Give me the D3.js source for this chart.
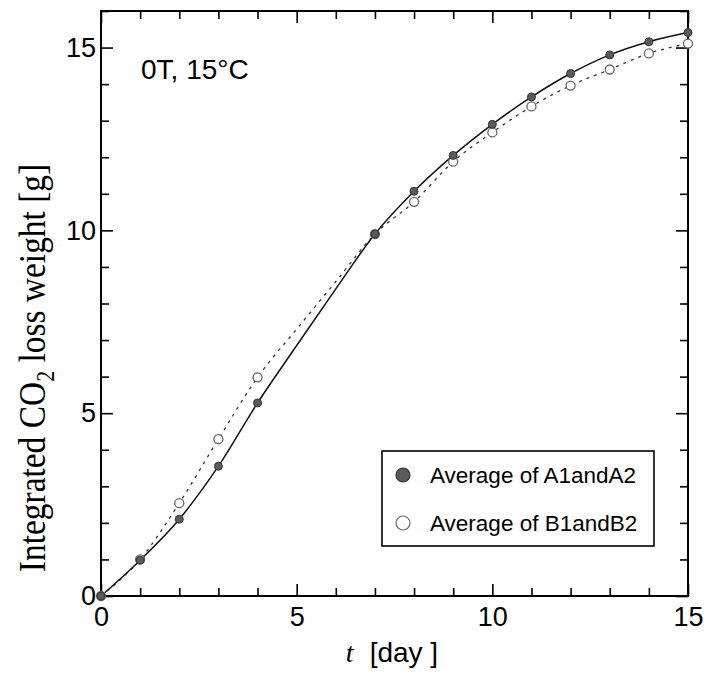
<!DOCTYPE html>
<html>
<head>
<meta charset="utf-8">
<script src="https://cdn.jsdelivr.net/npm/d3@7"></script>
<style>
  body { margin: 0; background: #fff; }
  svg { display: block; }
  .tick text { font-family: "Liberation Sans", Arial, sans-serif; font-size: 27px; fill: #000; }
  .tick line { stroke: #000; stroke-width: 1.6; }
</style>
</head>
<body>
<div id="chart"></div>
<script>
// days of measurement
var days = [0, 1, 2, 3, 4, 5, 6, 7, 8, 9, 10, 11, 12, 13, 14, 15];
// integrated CO2 loss weight [g] (curve values at days 5 and 6 have no marker)
var avgA = [0, 0.98, 2.1, 3.55, 5.28, 6.85, 8.4, 9.9, 11.07, 12.05, 12.9, 13.65, 14.29, 14.8, 15.16, 15.41];
var avgB = [0, 1.0, 2.54, 4.29, 5.98, 7.3, 8.6, 9.9, 10.78, 11.88, 12.68, 13.39, 13.96, 14.4, 14.84, 15.11];
var noMarkerDays = [5, 6];
var seriesNames = ['Average of A1andA2', 'Average of B1andB2'];
var xMajor = [0, 5, 10, 15];
var yMajor = [0, 5, 10, 15];

var W = 707, H = 679;
var plotLeft = 101, plotRight = 688, plotTop = 11, plotBottom = 596;

var svg = d3.select('#chart').append('svg')
    .attr('width', W)
    .attr('height', H);

svg.append('rect').attr('width', W).attr('height', H).style('fill', '#fff');

var x = d3.scaleLinear().domain([0, 15]).range([plotLeft, plotRight]);
var y = d3.scaleLinear().domain([0, 16]).range([plotBottom, plotTop]);

var xMinor = d3.range(0, 16).filter(function(d) { return xMajor.indexOf(d) < 0; });
var yMinor = d3.range(0, 17).filter(function(d) { return yMajor.indexOf(d) < 0; });

function drawAxis(axis, tx, ty) {
    var g = svg.append('g').attr('transform', 'translate(' + tx + ',' + ty + ')').call(axis);
    g.select('.domain').remove();
    return g;
}

// bottom
drawAxis(d3.axisBottom(x).tickValues(xMinor).tickSize(-8).tickFormat(''), 0, plotBottom);
drawAxis(d3.axisBottom(x).tickValues(xMajor).tickSize(-12).tickPadding(11).tickFormat(d3.format('d')), 0, plotBottom);
// top
drawAxis(d3.axisTop(x).tickValues(xMinor).tickSize(-8).tickFormat(''), 0, plotTop);
drawAxis(d3.axisTop(x).tickValues(xMajor).tickSize(-12).tickFormat(''), 0, plotTop);
// left
drawAxis(d3.axisLeft(y).tickValues(yMinor).tickSize(-8).tickFormat(''), plotLeft, 0);
drawAxis(d3.axisLeft(y).tickValues(yMajor).tickSize(-12).tickPadding(5).tickFormat(d3.format('d')), plotLeft, 0);
// right
drawAxis(d3.axisRight(y).tickValues(yMinor).tickSize(-8).tickFormat(''), plotRight, 0);
drawAxis(d3.axisRight(y).tickValues(yMajor).tickSize(-12).tickFormat(''), plotRight, 0);

// frame
svg.append('rect')
    .attr('x', plotLeft).attr('y', plotTop)
    .attr('width', plotRight - plotLeft).attr('height', plotBottom - plotTop)
    .style('fill', 'none').style('stroke', '#000').style('stroke-width', 2);

var line = d3.line()
    .x(function(d) { return x(d[0]); })
    .y(function(d) { return y(d[1]); })
    .curve(d3.curveMonotoneX);

var dataA = days.map(function(d, i) { return [d, avgA[i]]; });
var dataB = days.map(function(d, i) { return [d, avgB[i]]; });

svg.append('path').datum(dataB).attr('d', line)
    .style('fill', 'none').style('stroke', '#333').style('stroke-width', 1.3)
    .style('stroke-dasharray', '3,5');
svg.append('path').datum(dataA).attr('d', line)
    .style('fill', 'none').style('stroke', '#111').style('stroke-width', 1.5);

function hasMarker(d) { return noMarkerDays.indexOf(d[0]) < 0; }

svg.selectAll('.ptB').data(dataB.filter(hasMarker)).enter().append('circle')
    .attr('class', 'ptB')
    .attr('cx', function(d) { return x(d[0]); })
    .attr('cy', function(d) { return y(d[1]); })
    .attr('r', 4.5)
    .style('fill', '#fff').style('stroke', '#666').style('stroke-width', 1.3);

svg.selectAll('.ptA').data(dataA.filter(hasMarker)).enter().append('circle')
    .attr('class', 'ptA')
    .attr('cx', function(d) { return x(d[0]); })
    .attr('cy', function(d) { return y(d[1]); })
    .attr('r', 4)
    .style('fill', '#5a5a5a').style('stroke', '#333').style('stroke-width', 1);

// annotation
svg.append('text')
    .attr('x', 141).attr('y', 79)
    .style('font-family', '"Liberation Sans", Arial, sans-serif')
    .style('font-size', '28px')
    .text('0T, 15\u00B0C');

// legend
var lg = svg.append('g');
lg.append('rect')
    .attr('x', 382).attr('y', 451)
    .attr('width', 272).attr('height', 95)
    .style('fill', '#fff').style('stroke', '#000').style('stroke-width', 1.6);
var legRows = [
    { name: seriesNames[0], fill: '#5a5a5a', stroke: '#333', r: 7, y: 475 },
    { name: seriesNames[1], fill: '#fff', stroke: '#666', r: 7, y: 523 }
];
legRows.forEach(function(row) {
    lg.append('circle').attr('cx', 403).attr('cy', row.y).attr('r', row.r)
        .style('fill', row.fill).style('stroke', row.stroke).style('stroke-width', 1.2);
    lg.append('text').attr('x', 430).attr('y', row.y).attr('dy', '0.36em')
        .style('font-family', '"Liberation Sans", Arial, sans-serif')
        .style('font-size', '22.5px')
        .text(row.name);
});

// x label
var xl = svg.append('text')
    .attr('x', 392).attr('y', 662)
    .attr('text-anchor', 'middle')
    .style('font-size', '28px');
xl.append('tspan')
    .style('font-family', '"Liberation Serif", "Times New Roman", serif')
    .style('font-style', 'italic')
    .text('t');
xl.append('tspan')
    .style('font-family', '"Liberation Sans", Arial, sans-serif')
    .attr('dx', 16)
    .text('[day ]');

// y label
var yl = svg.append('text')
    .attr('transform', 'translate(45,368) rotate(-90) scale(0.88,1)')
    .attr('text-anchor', 'middle')
    .style('font-family', '"Liberation Serif", "Times New Roman", serif')
    .style('font-size', '38px');
yl.append('tspan').text('Integrated CO');
yl.append('tspan').attr('dy', 9).style('font-size', '25px').text('2');
yl.append('tspan').attr('dy', -9).text(' loss weight [g]');
</script>
</body>
</html>
